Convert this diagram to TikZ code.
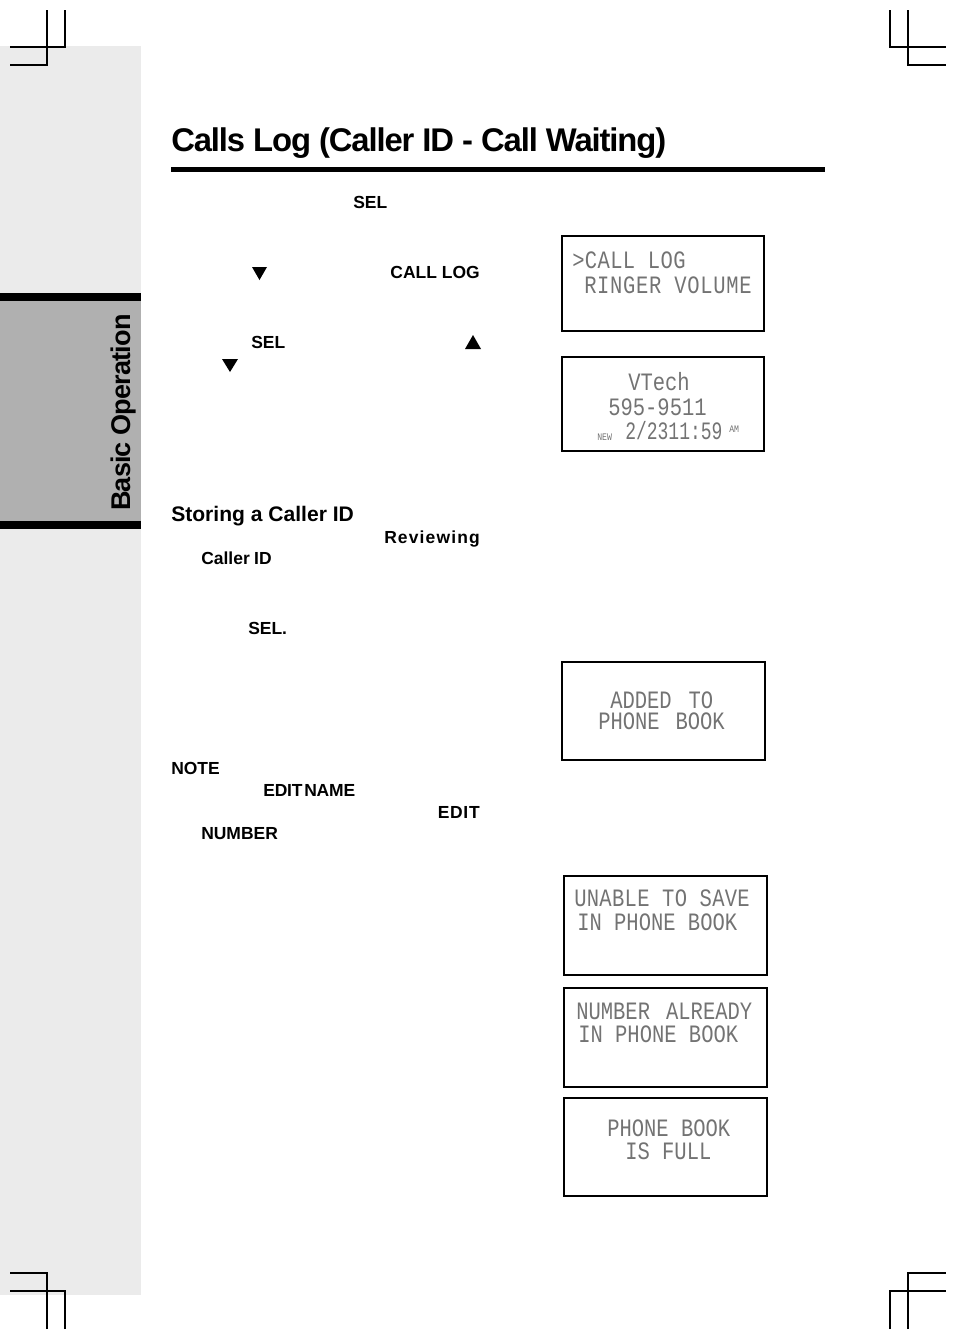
\documentclass[tikz,border=0pt]{standalone}
\usepackage{fontspec}
\usepackage{xcolor}
\setmainfont{Liberation Sans}
\newfontfamily\lcdfont[FakeStretch=0.82]{Liberation Mono}
\newfontfamily\lcdnarrow[FakeStretch=0.72]{Liberation Mono}
\definecolor{panelgray}{HTML}{EBEBEB}
\definecolor{bandgray}{HTML}{B0B0B0}
\tikzset{
    keylabel/.style={inner sep=0, font=\fontsize{13.1pt}{15pt}\selectfont\bfseries},
    lcdline/.style={inner sep=0, anchor=base west, text=black!55, font=\fontsize{18.75pt}{20pt}\lcdfont},
    lcdsmall/.style={inner sep=0, anchor=base west, text=black!55, font=\fontsize{7.5pt}{8pt}\lcdfont},
    lcdbox/.style={draw, line width=1.5pt},
    cropmark/.style={line width=1.1pt},
}

\begin{document}
\begin{tikzpicture}[x=0.75pt, y=-0.75pt]
    \useasboundingbox (0,0) rectangle (954,1339);
    % side panel
    \fill [panelgray] (0,46) rectangle (141,1295);
    \fill [bandgray] (0,301) rectangle (141,521);
    \fill [black] (0,293) rectangle (141,301);
    \fill [black] (0,521) rectangle (141,529);
    \node (section) [inner sep=0, rotate=90, anchor=base west, font=\fontsize{20.3pt}{22pt}\selectfont\bfseries] at (130,511) {\addfontfeatures{LetterSpace=-3.2}Basic Operation};
    % crop marks
    \draw [cropmark] (47,10) -- (47,65) -- (10,65);
    \draw [cropmark] (65,10) -- (65,47) -- (10,47);
    \draw [cropmark] (890,10) -- (890,47) -- (946,47);
    \draw [cropmark] (908,10) -- (908,65) -- (946,65);
    \draw [cropmark] (47,1329) -- (47,1273) -- (10,1273);
    \draw [cropmark] (65,1329) -- (65,1291) -- (10,1291);
    \draw [cropmark] (890,1329) -- (890,1291) -- (946,1291);
    \draw [cropmark] (908,1329) -- (908,1273) -- (946,1273);
    % title
    \node (title) [inner sep=0, anchor=base west, font=\fontsize{24.6pt}{28pt}\selectfont\bfseries] at (171,151) {\addfontfeatures{LetterSpace=-3.4}Calls Log (Caller ID - Call Waiting)};
    \fill [black] (171,167) rectangle (825,172);
    % text column
    \node (selone) [keylabel, anchor=base west] at (353,208) {SEL};
    \node (calllog) [keylabel, anchor=base east] at (480,278) {CALL LOG};
    \node (seltwo) [keylabel, anchor=base west] at (251,348) {SEL};
    \node (storing) [inner sep=0, anchor=base west, font=\fontsize{15.8pt}{18pt}\selectfont\bfseries] at (171,521) {Storing a Caller ID};
    \node (reviewing) [keylabel, anchor=base east] at (480,543) {\addfontfeatures{LetterSpace=6.5}Reviewing};
    \node (callerid) [keylabel, anchor=base west] at (201,564) {Caller\hspace{.25em}ID};
    \node (selthree) [keylabel, anchor=base west] at (248,634) {SEL.};
    \node (note) [keylabel, anchor=base west] at (171,774) {NOTE};
    \node (editname) [keylabel, anchor=base west] at (263,796) {\addfontfeatures{LetterSpace=-1}EDIT\hspace{.1em}NAME};
    \node (edit) [keylabel, anchor=base east] at (480,818) {\addfontfeatures{LetterSpace=4}EDIT};
    \node (number) [keylabel, anchor=base west] at (201,839) {NUMBER};
    % arrow keys
    \fill (252,267) -- (267,267) -- (259.5,280) -- cycle;
    \fill (222,359) -- (238,359) -- (230,372) -- cycle;
    \fill (465,349) -- (481,349) -- (473,335) -- cycle;
    % displays
    \draw [lcdbox] (561.5,236) rectangle (763.5,331);
    \draw [lcdbox] (561.5,357) rectangle (763.5,451);
    \draw [lcdbox] (561.5,662) rectangle (764.5,760);
    \draw [lcdbox] (564,876) rectangle (767,975);
    \draw [lcdbox] (564,988) rectangle (767,1087);
    \draw [lcdbox] (564,1098) rectangle (767,1196);
    \node (menua) [lcdline] at (572,268) {\addfontfeatures{LetterSpace=1.5}>CALL LOG};
    \node (menub) [lcdline] at (584,293) {\addfontfeatures{LetterSpace=2.7}RINGER VOLUME};
    \node (cidname) [lcdline] at (628,390) {VTech};
    \node (cidnum) [lcdline] at (608,415) {595-9511};
    \node (cidnew) [lcdsmall] at (597,440) {NEW};
    \node (ciddate) [lcdline, font=\fontsize{18.75pt}{20pt}\lcdnarrow] at (625,439) {2/2311:59};
    \node (cidam) [lcdsmall] at (729,432) {AM};
    \node (addeda) [lcdline] at (610,708) {ADDED\ \hspace{.18em}TO};
    \node (addedb) [lcdline] at (598,729) {PHONE\ \hspace{.14em}BOOK};
    \node (unablea) [lcdline] at (574,906) {\addfontfeatures{LetterSpace=1.2}UNABLE TO SAVE};
    \node (unableb) [lcdline] at (577,930) {IN PHONE BOOK};
    \node (alreadya) [lcdline] at (576,1019) {NUMBER\ \hspace{.15em}ALREADY};
    \node (alreadyb) [lcdline] at (578,1042) {IN PHONE BOOK};
    \node (fulla) [lcdline] at (607,1136) {PHONE BOOK};
    \node (fullb) [lcdline] at (625,1159) {IS FULL};
\end{tikzpicture}
\end{document}
